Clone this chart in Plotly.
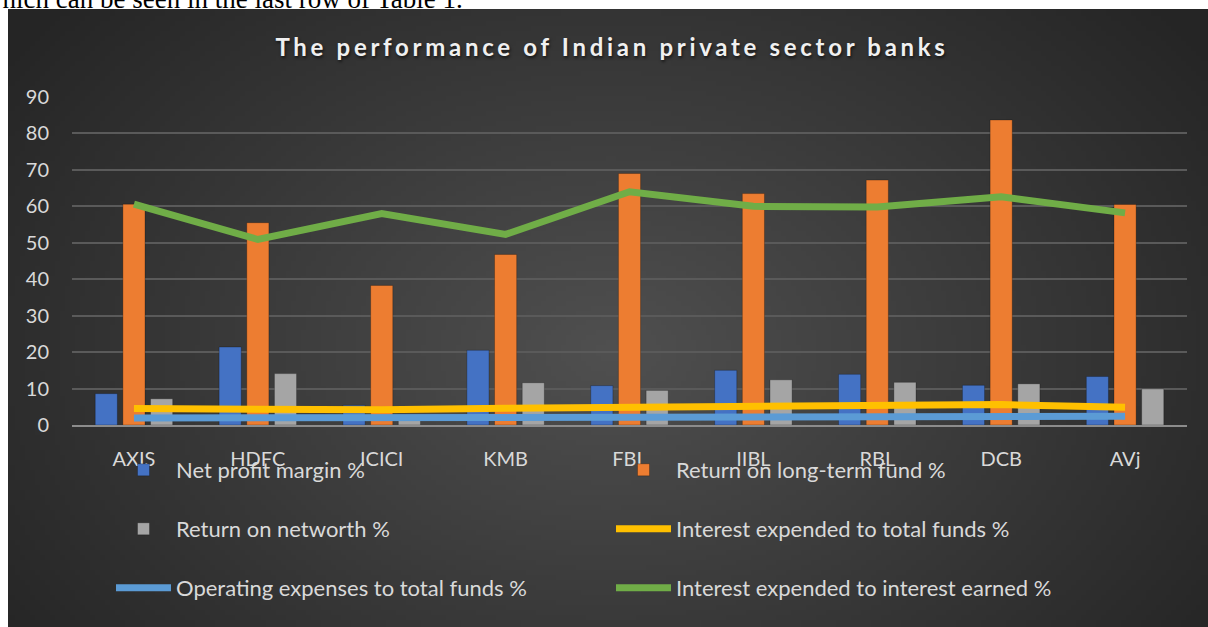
import struct, zlib, base64
import plotly.graph_objects as go

# ---------------- data ----------------
banks = ["AXIS", "HDFC", "ICICI", "KMB", "FBL", "IIBL", "RBL", "DCB", "AVj"]
net_profit_margin = [8.6, 21.4, 5.4, 20.5, 10.8, 15.0, 13.9, 10.9, 13.3]
return_long_term_fund = [60.6, 55.5, 38.3, 46.8, 69.0, 63.5, 67.2, 83.7, 60.5]
return_networth = [7.2, 14.1, 2.0, 11.6, 9.5, 12.4, 11.7, 11.3, 9.9]
interest_exp_total_funds = [4.5, 4.4, 4.2, 4.6, 4.8, 5.3, 5.4, 5.6, 4.9]
opex_total_funds = [1.9, 2.0, 2.0, 2.3, 2.0, 2.4, 2.5, 2.6, 2.4]
interest_exp_interest_earned = [60.6, 50.9, 58.0, 52.3, 64.0, 60.0, 59.8, 62.6, 58.2]
y_ticks = [0, 10, 20, 30, 40, 50, 60, 70, 80, 90]

TITLE = "The performance of Indian private sector banks"
TOP_TEXT = "which can be seen in the last row of Table 1."

# ---------------- background gradient (styling) ----------------
def radial_png(w, h):
    rows = []
    cx, cy = w * 0.50, h * 0.55
    for j in range(h):
        row = bytearray([0])
        for i in range(w):
            dx = (i - cx) / (w * 0.62)
            dy = (j - cy) / (h * 0.85)
            r = min(1.0, (dx * dx + dy * dy) ** 0.5)
            c = int(80 + (37 - 80) * r)
            row += bytes([c, c, c])
        rows.append(bytes(row))
    raw = b"".join(rows)
    def chunk(t, d):
        return struct.pack(">I", len(d)) + t + d + struct.pack(">I", zlib.crc32(t + d) & 0xffffffff)
    png = b"\x89PNG\r\n\x1a\n" + chunk(b"IHDR", struct.pack(">IIBBBBB", w, h, 8, 2, 0, 0, 0)) \
        + chunk(b"IDAT", zlib.compress(raw, 9)) + chunk(b"IEND", b"")
    return "data:image/png;base64," + base64.b64encode(png).decode()

W, H = 1208, 627
L, R, T, B = 72, 21, 97, 202
pw, ph = W - L - R, H - T - B

def px_x(x):
    return (x - L) / pw

def px_y(y):
    return (H - B - y) / ph

font_fam = "Lato, Carlito, Calibri, sans-serif"
txt_col = "#d9d9d9"

fig = go.Figure()

bar_specs = [
    ("Net profit margin %", net_profit_margin, "#4472C4", "legend"),
    ("Return on long-term fund %", return_long_term_fund, "#ED7D31", "legend"),
    ("Return on networth %", return_networth, "#A5A5A5", "legend2"),
]
for name, vals, col, lg in bar_specs:
    fig.add_trace(go.Bar(x=banks, y=vals, name=name, legend=lg,
                         marker=dict(color=col, line=dict(color="rgba(0,0,0,0.25)", width=1))))

line_specs = [
    ("Interest expended to total funds %", interest_exp_total_funds, "#FFC000", "legend2"),
    ("Operating expenses to total funds %", opex_total_funds, "#5B9BD5", "legend3"),
    ("Interest expended to interest earned %", interest_exp_interest_earned, "#70AD47", "legend3"),
]
for name, vals, col, lg in line_specs:
    fig.add_trace(go.Scatter(x=banks, y=vals, name=name, legend=lg, mode="lines",
                             line=dict(color=col, width=7)))

leg_common = dict(orientation="h", xanchor="left", yanchor="middle",
                  entrywidth=430, entrywidthmode="pixels", itemwidth=55,
                  bgcolor="rgba(0,0,0,0)", traceorder="normal",
                  font=dict(family=font_fam, size=22, color=txt_col))
legx = px_x(111)

fig.update_layout(
    width=W, height=H,
    margin=dict(l=L, r=R, t=T, b=B, pad=0),
    paper_bgcolor="white",
    plot_bgcolor="rgba(0,0,0,0)",
    barmode="group", bargap=0.33, bargroupgap=0.2,
    showlegend=True,
    legend=dict(leg_common, x=legx, y=px_y(470)),
    legend2=dict(leg_common, x=legx, y=px_y(529)),
    legend3=dict(leg_common, x=legx, y=px_y(588)),
    title=dict(text='<span style="letter-spacing:3.7px">' + TITLE + '</span>',
               x=612 / W, xref="container", xanchor="center",
               y=(H - 48) / H, yref="container", yanchor="middle",
               font=dict(family=font_fam, size=24, color="#f0f0f0", weight="bold",
                         shadow="1px 2px 3px rgba(0,0,0,0.6)")),
    xaxis=dict(showgrid=False, showline=True, linecolor="#8c8c8c", linewidth=2,
               ticks="", ticklabelstandoff=15,
               tickfont=dict(family=font_fam, size=20, color=txt_col)),
    yaxis=dict(range=[0, 90], tickvals=y_ticks, showgrid=True, gridcolor="#5a5a5a",
               gridwidth=1.5, zeroline=False, showline=False, ticks="",
               ticklabelstandoff=22,
               tickfont=dict(family=font_fam, size=20, color=txt_col)),
    images=[dict(source=radial_png(240, 124), xref="paper", yref="paper",
                 x=px_x(8), y=px_y(9), sizex=(W - 8) / pw, sizey=(H - 9) / ph,
                 xanchor="left", yanchor="top", sizing="stretch", layer="below")],
    annotations=[dict(text=TOP_TEXT, xref="paper", yref="paper",
                      x=px_x(-19), y=px_y(-1), xanchor="left", yanchor="middle",
                      showarrow=False,
                      font=dict(family="Liberation Serif, Times New Roman, serif",
                                size=27, color="black"))],
)

fig.write_html("out.html")
